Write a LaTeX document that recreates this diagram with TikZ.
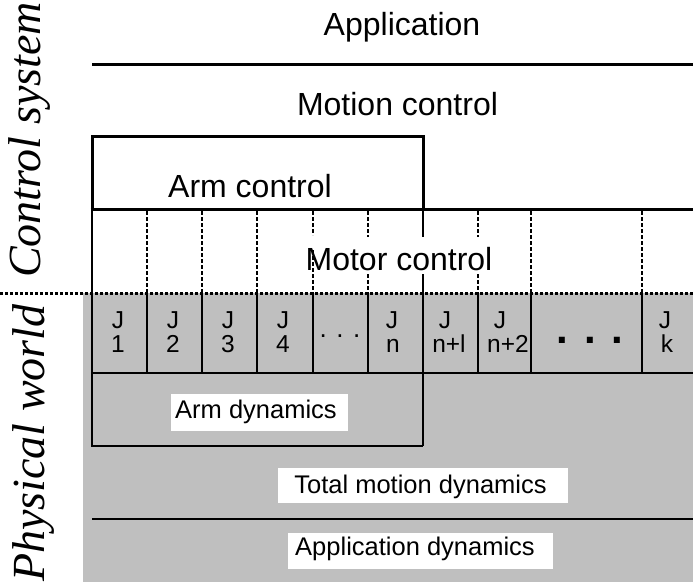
\documentclass[tikz,border=0pt]{standalone}
\usepackage{fontspec}
\setmainfont{Liberation Sans}
\newfontfamily\sideit{Liberation Serif Italic}
\begin{document}
\begin{tikzpicture}[x=1pt,y=-1pt,
  thickl/.style={line width=3pt},
  thinl/.style={line width=1.8pt},
  dotl/.style={line width=1.3pt, dash pattern=on 4pt off 2pt},
  sepl/.style={line width=3pt, dash pattern=on 3pt off 2pt},
  big/.style={font=\fontsize{32}{38}\selectfont, inner sep=0pt, anchor=base},
  small/.style={font=\fontsize{25.5}{30}\selectfont, inner sep=0pt, anchor=base},
  jlab/.style={font=\fontsize{24.5}{28}\selectfont, inner sep=0pt, anchor=base},
  side/.style={font=\sideit\fontsize{46}{50}\selectfont, rotate=90, inner sep=0pt, anchor=base},
  whitebox/.style={fill=white, draw=none},
  greyarea/.style={fill=black!25, draw=none}
]
\useasboundingbox (0,0) rectangle (693,582);
% grey physical area
\fill[greyarea] (83,293) rectangle (693,582);
% top
\node[big] (app) at (402,35) {Application};
\draw[thickl] (92,64) -- (693,64);
\node[big] (motion) at (397.5,115) {Motion control};
% arm control box
\draw[thickl] (92,209) -- (92,136) -- (423,136) -- (423,209);
\draw[thickl] (90.5,209) -- (693,209);
\node[big] (arm) at (250,197) {Arm control};
% motor control
\node[big] (motor) at (399,270) {Motor control};
% dotted verticals in control area
\foreach \x in {147,202,257,531,642} \draw[dotl] (\x,211) -- (\x,293);
\draw[dotl] (313,211) -- (313,235);
\draw[dotl] (313,250) -- (313,293);
\foreach \x in {368,478} {\draw[dotl] (\x,211) -- (\x,237); \draw[dotl] (\x,274) -- (\x,293);}
% solid lines
\draw[thinl] (92,209) -- (92,446) -- (423,446);
\draw[thinl] (423,209) -- (423,237);
\draw[thinl] (423,274) -- (423,446);
\draw[thinl] (92,373) -- (693,373);
\foreach \x in {147,202,257,313,368,478,531,642} \draw[thinl] (\x,293) -- (\x,373);
\draw[thinl] (92,519) -- (693,519);
% separator
\draw[sepl] (0,293) -- (693,293);
% joint labels
\foreach \xa/\xb/\n [count=\i] in {118/118/1,173/173/2,228/228/3,283/283/4,392/393/n,445/449/n+l,500/508/n+2,665/667/k} {
  \node[jlab] (jt\i) at (\xa,328) {J};
  \node[jlab] (jn\i) at (\xb,352) {\n};
}
\node[jlab, font=\fontsize{26}{30}\selectfont] (dotsa) at (340,337) {. . .};
\node[jlab, font=\bfseries\fontsize{42}{46}\selectfont] (dotsb) at (590,343) {. . .};
% dynamics labels
\fill[whitebox] (171,394) rectangle (348,431);
\node[small] (armdyn) at (256,418) {Arm dynamics};
\fill[whitebox] (278,468) rectangle (568,503);
\node[small] (totdyn) at (420.5,493) {Total motion dynamics};
\fill[whitebox] (288,533) rectangle (553,569);
\node[small] (appdyn) at (415,555) {Application dynamics};
% side labels
\node[side] (ctrl) at (40,140) {Control system};
\node[side] (phys) at (44,443) {Physical world};
\end{tikzpicture}
\end{document}
